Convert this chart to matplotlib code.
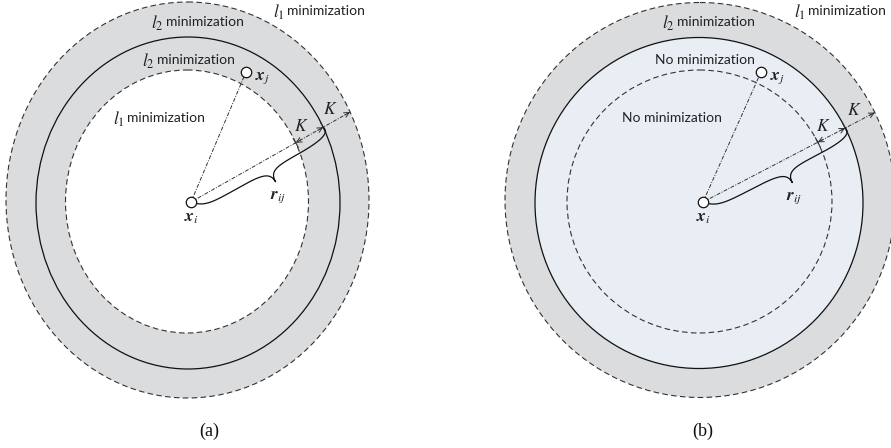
import numpy as np
import matplotlib
matplotlib.use("Agg")
import matplotlib.pyplot as plt
from matplotlib.patches import Ellipse

plt.rcParams['mathtext.fontset'] = 'stix'

# ---------------- data (pixel-space geometry of the two diagrams) -------------
panels = ["(a)", "(b)"]
outer_cx = [187.5, 700.0]
outer_cy = [200.0, 200.0]
outer_w = [363.0, 390.0]
outer_h = [396.0, 395.0]
middle_cx = [188.0, 699.0]
middle_cy = [203.0, 203.0]
middle_w = [304.0, 328.0]
middle_h = [332.0, 331.0]
inner_cx = [187.0, 699.5]
inner_cy = [201.5, 201.5]
inner_w = [243.0, 265.0]
inner_h = [263.0, 263.0]
xi_x = [191.0, 703.0]
xi_y = [202.0, 202.0]
xj_x = [246.0, 761.0]
xj_y = [72.0, 72.0]
ray_angle = [29.5, 27.5]  # degrees, measured upward from horizontal

# region fills
ring_color = "#dbdcde"
core_color = ["#ffffff", "#e9eef5"]

# region labels: (math prefix, text, x, y)
labels_a = [(r"$l_2$", "minimization", 199, 22), (r"$l_1$", "minimization", 320, 11),
            (r"$l_2$", "minimization", 190, 60), (r"$l_1$", "minimization", 160, 118)]
labels_b = [(r"$l_2$", "minimization", 710, 22), (r"$l_1$", "minimization", 841, 11),
            ("", "No minimization", 705, 60), ("", "No minimization", 672, 118)]
region_labels = [labels_a, labels_b]

# ------------------------------------------------------------------------------
fig = plt.figure(figsize=(8.91, 4.48), dpi=100)
ax = fig.add_axes([0, 0, 1, 1])
ax.set_xlim(0, 891)
ax.set_ylim(448, 0)
ax.axis('off')

TXT = "#222222"
LINE = "#333333"
FONT = "Lato"


def ray_hit(p0, d, c, w, h):
    a, b = w / 2.0, h / 2.0
    px, py = p0[0] - c[0], p0[1] - c[1]
    A = (d[0] / a) ** 2 + (d[1] / b) ** 2
    B = 2 * (px * d[0] / a ** 2 + py * d[1] / b ** 2)
    C = (px / a) ** 2 + (py / b) ** 2 - 1
    t = (-B + np.sqrt(B * B - 4 * A * C)) / (2 * A)
    return np.array([p0[0] + t * d[0], p0[1] + t * d[1]])


def bez(p0, p1, p2, p3, n=40):
    s = np.linspace(0, 1, n)[:, None]
    return ((1 - s) ** 3) * p0 + 3 * ((1 - s) ** 2) * s * p1 + 3 * (1 - s) * s ** 2 * p2 + s ** 3 * p3


for k in range(2):
    # filled regions
    ax.add_patch(Ellipse((outer_cx[k], outer_cy[k]), outer_w[k], outer_h[k],
                         facecolor=ring_color, edgecolor='none', zorder=1))
    if k == 0:
        ax.add_patch(Ellipse((inner_cx[k], inner_cy[k]), inner_w[k], inner_h[k],
                             facecolor=core_color[k], edgecolor='none', zorder=2))
    else:
        ax.add_patch(Ellipse((middle_cx[k], middle_cy[k]), middle_w[k], middle_h[k],
                             facecolor=core_color[k], edgecolor='none', zorder=2))
    # outlines
    ax.add_patch(Ellipse((outer_cx[k], outer_cy[k]), outer_w[k], outer_h[k],
                         facecolor='none', edgecolor=LINE, lw=0.8, ls=(0, (5, 3)), zorder=3))
    ax.add_patch(Ellipse((middle_cx[k], middle_cy[k]), middle_w[k], middle_h[k],
                         facecolor='none', edgecolor='#111111', lw=0.9, zorder=3))
    ax.add_patch(Ellipse((inner_cx[k], inner_cy[k]), inner_w[k], inner_h[k],
                         facecolor='none', edgecolor=LINE, lw=0.8, ls=(0, (5, 3)), zorder=3))

    p0 = np.array([xi_x[k], xi_y[k]])
    ang = np.deg2rad(ray_angle[k])
    d = np.array([np.cos(ang), -np.sin(ang)])
    nrm = np.array([np.sin(ang), np.cos(ang)])  # perpendicular, toward lower right
    p_in = ray_hit(p0, d, (inner_cx[k], inner_cy[k]), inner_w[k], inner_h[k])
    p_mid = ray_hit(p0, d, (middle_cx[k], middle_cy[k]), middle_w[k], middle_h[k])
    p_out = ray_hit(p0, d, (outer_cx[k], outer_cy[k]), outer_w[k], outer_h[k])

    # dash-dot lines
    ax.plot([p0[0], xj_x[k]], [p0[1], xj_y[k]], color=LINE, lw=0.7,
            ls=(0, (4, 1.5, 1, 1.5)), zorder=4)
    ax.plot([p0[0], p_out[0]], [p0[1], p_out[1]], color=LINE, lw=0.7,
            ls=(0, (4, 1.5, 1, 1.5)), zorder=4)
    # arrowheads
    for tip, back in ((p_in, p_in + d * 6), (p_out, p_out - d * 6), (p_mid, p_mid - d * 6)):
        ax.annotate('', xy=tip, xytext=back, zorder=5,
                    arrowprops=dict(arrowstyle='->', lw=0.7, color=LINE, mutation_scale=9,
                                    shrinkA=0, shrinkB=0))
    for pt in (p_in, p_mid):
        a1 = pt - nrm * 5
        a2 = pt + nrm * 5
        ax.plot([a1[0], a2[0]], [a1[1], a2[1]], color=LINE, lw=0.8, zorder=5)

    # curly brace from x_i to middle circle
    L = np.linalg.norm(p_mid - p0)
    tc = 0.55 * L
    h, hc = 11.0, 24.0
    P = lambda t, v: np.array([t, v])
    segs = [
        bez(P(0, 0), P(0.10 * tc, h * 0.9), P(0.2 * tc, h), P(0.5 * tc, h)),
        bez(P(0.5 * tc, h), P(0.85 * tc, h), P(tc, h), P(tc, hc)),
        bez(P(tc, hc), P(tc, h), P(tc + 0.15 * (L - tc), h), P(tc + 0.5 * (L - tc), h)),
        bez(P(tc + 0.5 * (L - tc), h), P(L - 0.05 * (L - tc), h), P(L + 2, h * 0.6), P(L, 0)),
    ]
    tv = np.vstack(segs)
    pts = p0[None, :] + tv[:, :1] * d[None, :] + tv[:, 1:] * nrm[None, :]
    ax.plot(pts[:, 0], pts[:, 1], color='#111111', lw=0.9, zorder=5)

    # points
    ax.plot([xi_x[k], xj_x[k]], [xi_y[k], xj_y[k]], 'o', ms=7.5, mfc='white',
            mec='#111111', mew=0.9, ls='none', zorder=6)

    # math labels
    ax.text(xi_x[k], xi_y[k] + 15, r"$\boldsymbol{x}_i$", fontsize=12.5, ha='center',
            va='center', color=TXT, zorder=7)
    ax.text(xj_x[k] + 17, xj_y[k] + 5, r"$\boldsymbol{x}_j$", fontsize=12.5, ha='center',
            va='center', color=TXT, zorder=7)
    rx = p0 + d * (tc - 5) + nrm * 38
    ax.text(rx[0], rx[1], r"$\boldsymbol{r}_{ij}$", fontsize=12.5, ha='center',
            va='center', color=TXT, zorder=7)
    k1 = (p_in + p_mid) / 2 - nrm * 12 - d * 3
    k2 = (p_mid + p_out) / 2 - nrm * 12
    ax.text(k1[0], k1[1], r"$K$", fontsize=12.5, ha='center', va='center', color=TXT, zorder=7)
    ax.text(k2[0], k2[1], r"$K$", fontsize=12.5, ha='center', va='center', color=TXT, zorder=7)

    for mth, txt, x, y in region_labels[k]:
        if mth:
            ax.text(x - 33, y, txt, fontsize=10, family=FONT, ha='left',
                    va='center', color=TXT, zorder=7)
            ax.text(x - 35, y + 1, mth, fontsize=12.5, ha='right', va='center',
                    color=TXT, zorder=7)
        else:
            ax.text(x, y, txt, fontsize=10, family=FONT, ha='center', va='center',
                    color=TXT, zorder=7)

    ax.text(xi_x[k] + [18, 0][k], 431, panels[k], fontsize=13, family='Liberation Serif',
            ha='center', va='center', color='#111111')

fig.savefig("out.png", dpi=100)
